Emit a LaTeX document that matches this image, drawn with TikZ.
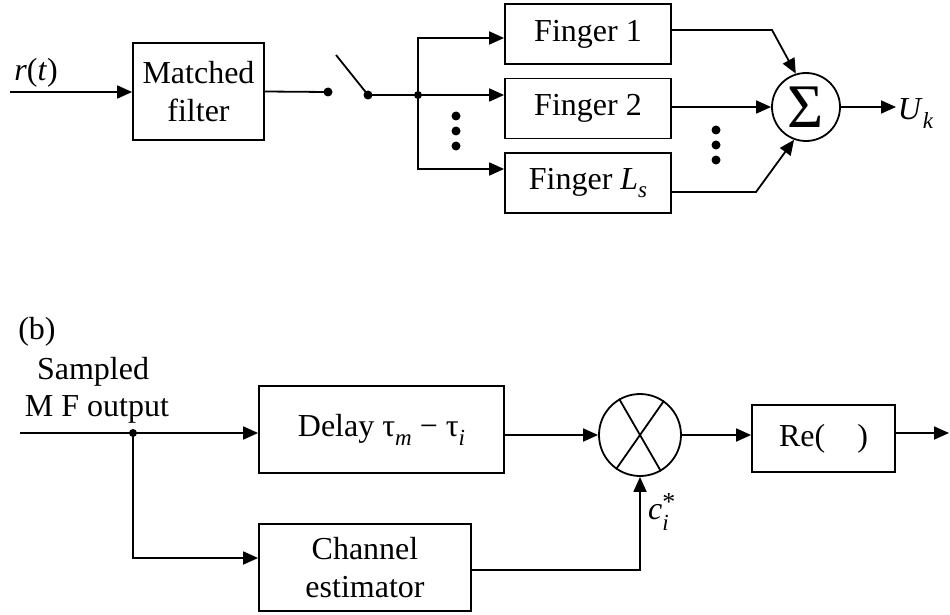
\documentclass[tikz,border=0pt]{standalone}
\usepackage{amsmath}
\usepackage{fontspec}
\setmainfont{Liberation Serif}
\usetikzlibrary{arrows.meta}
\newcommand\fsz{\fontsize{32}{38}\selectfont}
\newcommand\sbs[1]{\raisebox{-0.28em}{\fontsize{23}{23}\selectfont\itshape #1}}
\begin{document}
\begin{tikzpicture}[x=1pt,y=-1pt, line width=1.8pt,
  box/.style={draw, line width=1.8pt, inner sep=0pt, align=center, font=\fsz},
  lbl/.style={font=\fsz, inner sep=1pt},
  arr/.style={-{Triangle[length=15pt,width=13pt]}},
  dotn/.style={circle, fill, inner sep=0pt, minimum size=#1},
]
\useasboundingbox (0,0) rectangle (950,615);

% ---------- part (a) ----------
\node[lbl] (rt) at (36,73) {\textit{r}(\textit{t})};
\node[box, minimum width=131pt, minimum height=97pt] (mf) at (198.5,91.5) {Matched\\filter};
\coordinate (in0) at (10,92);
\draw[arr] (in0) -- (in0 -| mf.west);
\node[dotn=9pt] (d1) at (328,92) {};
\draw (mf.east) -- (d1.center);
\node[dotn=9pt] (d2) at (368,95) {};
\coordinate (sw) at (336,55);
\draw (sw) -- (d2.center);
\node[dotn=8pt] (j) at (418,95) {};
\draw (d2.center) -- (j.center);

\node[box, minimum width=166pt, minimum height=60pt] (f1) at (588,34) {Finger 1};
\node[box, minimum width=166pt, minimum height=60pt] (f2) at (588,108.5) {Finger 2};
\node[box, minimum width=166pt, minimum height=60pt] (f3) at (588,183) {Finger \textit{L}\sbs{s}};
\coordinate (jt) at (418,38);
\coordinate (jbt) at (418,169);
\draw[arr] (j.center) -- (jt) -- (jt -| f1.west);
\draw[arr] (j.center) -- (j -| f2.west);
\draw[arr] (j.center) -- (jbt) -- (jbt -| f3.west);
\foreach \yy in {116,131,146} \node[dotn=9pt] (va\yy) at (456,\yy) {};

\node[draw, circle, minimum size=68pt, inner sep=0pt, font=\fontsize{62}{62}\selectfont] (sum) at (806,107) {Σ};
\coordinate (a1) at (671,30);
\coordinate (b1) at (772,30);
\draw[arr] (a1) -- (b1) -- (sum.107);
\draw[arr] (f2.east |- sum) -- (sum.west);
\coordinate (a3) at (671,192);
\coordinate (b3) at (756,192);
\draw[arr] (a3) -- (b3) -- (sum.250);
\foreach \yy in {130,145,160} \node[dotn=9pt] (vb\yy) at (716,\yy) {};
\node[lbl, anchor=west] (uk) at (896,114) {\textit{U}\sbs{k}};
\draw[arr] (sum.east) -- (sum.east -| uk.west);

% ---------- part (b) ----------
\node[lbl] (lb) at (37,332) {(b)};
\node[lbl] (smp) at (93,372) {Sampled};
\node[lbl] (mfo) at (97,409) {M F output};
\coordinate (in1) at (20,433);
\node[dotn=8pt] (jb2) at (133,433) {};
\node[box, minimum width=245pt, minimum height=87pt] (dl) at (381.5,429.5) {Delay τ\sbs{m} − τ\sbs{i}};
\draw (in1) -- (jb2.center);
\draw[arr] (jb2.center) -- (jb2 -| dl.west);
\node[box, minimum width=212pt, minimum height=87pt] (ce) at (365,567.5) {Channel\\estimator};
\coordinate (cb) at (133,558);
\draw[arr] (jb2.center) -- (cb) -- (cb -| ce.west);
\node[draw, circle, minimum size=82pt, inner sep=0pt] (mul) at (640,435) {};
\draw (mul.120) -- (mul.300);
\draw (mul.55) -- (mul.235);
\draw[arr] (mul.west -| dl.east) -- (mul.west);
\coordinate (co) at (471,570);
\draw[arr] (co) -| (mul.south);
\node[lbl] (ci) at (662,512) {\textit{c}$^{\text{\fontsize{26}{26}\selectfont *}}_{\text{\fontsize{23}{23}\selectfont\itshape i}}$};
\node[box, minimum width=143pt, minimum height=67pt] (re) at (823.5,438.5) {Re(\quad)};
\draw[arr] (mul.east) -- (mul.east -| re.west);
\coordinate (out) at (949,433);
\draw[arr] (re.east |- out) -- (out);
\end{tikzpicture}
\end{document}
